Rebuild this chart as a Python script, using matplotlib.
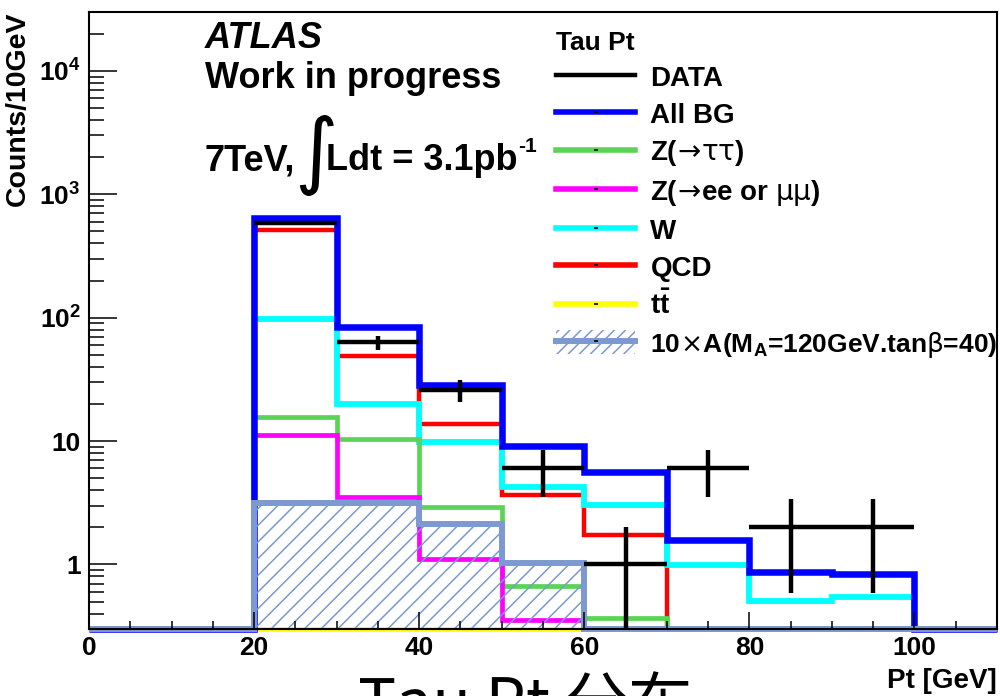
"""Tau Pt distribution: data vs. background stack components, log scale."""
import numpy as np
import matplotlib
matplotlib.use("Agg")
import matplotlib.pyplot as plt
from matplotlib.lines import Line2D
from matplotlib.patches import Patch
from matplotlib.legend_handler import HandlerTuple
from matplotlib.ticker import MultipleLocator, LogLocator, FixedLocator, FuncFormatter, NullFormatter

# ---------------------------------------------------------------------------
# data (10 GeV bins, 0-110 GeV)
# ---------------------------------------------------------------------------
bin_edges = np.arange(0, 120, 10)
data = [0, 0, 588, 63, 26, 6, 1, 6, 2, 2, 0]
all_bg = [0, 0, 637, 84, 28.3, 9.2, 5.6, 1.59, 0.87, 0.83, 0]
z_tautau = [0, 0, 15.7, 10.3, 2.95, 0.667, 0.367, 0, 0, 0, 0]
z_ll = [0, 0, 11.3, 3.5, 1.1, 0.356, 0.29, 0, 0, 0, 0]
w_jets = [0, 0, 98, 20.1, 9.8, 4.24, 3.05, 0.99, 0.51, 0.54, 0]
qcd = [0, 0, 512, 48.9, 13.7, 3.63, 1.72, 0, 0, 0, 0]
ttbar = [0, 0, 0, 0, 0, 0, 0, 0, 0, 0, 0]
signal = [0, 0, 3.14, 3.14, 2.14, 1.02, 0, 0, 0, 0, 0]

labels = ["DATA", "All BG", r"Z($\mathsf{\!\rightarrow\!\tau\tau}$)",
          r"Z($\mathsf{\!\rightarrow\!}$ee or $\mathsf{\mu\mu}$)", "W", "QCD",
          r"$\mathrm{t\bar{t}}$",
          r"10$\mathsf{\!\times\!}$A(M$_\mathrm{A}$=120GeV.tan$\mathsf{\beta}$=40)"]
x_ticks = [0, 20, 40, 60, 80, 100]

YMIN, YMAX = 0.3, 3e4
W, H = 1000, 696
SIG = "#7d99d1"

plt.rcParams["font.family"] = ["Liberation Sans", "DejaVu Sans"]
plt.rcParams["font.weight"] = "bold"
plt.rcParams["mathtext.fontset"] = "custom"
plt.rcParams["mathtext.rm"] = "Liberation Sans:bold"
plt.rcParams["mathtext.it"] = "Liberation Sans:bold:italic"
plt.rcParams["mathtext.bf"] = "Liberation Sans:bold"
plt.rcParams["mathtext.sf"] = "DejaVu Sans:normal"
plt.rcParams["hatch.linewidth"] = 1.1


def px(x, y):
    return x / W, 1 - y / H


fig = plt.figure(figsize=(10, 6.96), dpi=100)
ax = fig.add_axes([89 / W, 1 - 629 / H, (997 - 89) / W, (629 - 12) / H])
ax.set_yscale("log")
ax.set_xlim(0, 110)
ax.set_ylim(YMIN, YMAX)


def clip(v):
    return np.clip(np.asarray(v, dtype=float), YMIN, None)


hists = [
    (qcd, "#ff0000", 3.2),
    (w_jets, "#00ffff", 4.2),
    (z_tautau, "#59d454", 3.4),
    (z_ll, "#ff00ff", 3.4),
    (ttbar, "#ffff00", 3.4),
    (all_bg, "#0000ff", 4.7),
]
for vals, col, lw in hists:
    ax.stairs(clip(vals), bin_edges, baseline=None, color=col, lw=lw, clip_on=False)

ax.stairs(clip(signal), bin_edges, baseline=YMIN, fill=True, facecolor="none",
          edgecolor=SIG, hatch="//", lw=0)
ax.stairs(clip(signal), bin_edges, baseline=None, color=SIG, lw=4.3, clip_on=False)

data = np.asarray(data, dtype=float)
centers = 0.5 * (bin_edges[:-1] + bin_edges[1:])
has = data > 0
ax.errorbar(centers[has], data[has], xerr=5, yerr=np.sqrt(data[has]),
            fmt="none", ecolor="black", elinewidth=3.2, capsize=0, zorder=5)

# axes styling
for s in ax.spines.values():
    s.set_linewidth(1.5)
ax.xaxis.set_major_locator(FixedLocator(x_ticks))
ax.xaxis.set_minor_locator(MultipleLocator(5))
ax.yaxis.set_major_locator(LogLocator(base=10, numticks=10))
ax.yaxis.set_minor_locator(LogLocator(base=10, subs=np.arange(2, 10), numticks=20))
ax.yaxis.set_minor_formatter(NullFormatter())
ax.yaxis.set_major_formatter(FuncFormatter(
    lambda v, _: "1" if v == 1 else ("10" if v == 10 else r"$\mathrm{10^{%d}}$" % round(np.log10(v)))))
ax.tick_params(which="both", direction="in", top=False, right=False, width=1.1,
               labelsize=19)
ax.tick_params(axis="y", which="major", length=20, pad=6)
ax.tick_params(axis="y", which="minor", length=11)
ax.tick_params(axis="x", which="major", length=12, pad=5)
ax.tick_params(axis="x", which="minor", length=6)

fig.text(*px(18, 12), "Counts/10GeV", rotation=90, ha="center", va="top", fontsize=20.5)
fig.text(*px(997, 668), "Pt [GeV]", ha="right", va="top", fontsize=20)

# ATLAS label block
fig.text(*px(205, 48), "ATLAS", style="italic", fontsize=26, va="baseline")
fig.text(*px(205, 88), "Work in progress", fontsize=26, va="baseline")
fig.text(*px(205, 170), "7TeV,", fontsize=26, va="baseline")
fig.text(*px(294, 156), "∫", family="DejaVu Sans", fontweight="normal",
         fontsize=60, va="center")
fig.text(*px(326, 170), "Ldt = 3.1pb", fontsize=26, va="baseline")
fig.text(*px(518, 152), "-1", fontsize=15, va="baseline")

# legend
colors = ["black", "#0000ff", "#59d454", "#ff00ff", "#00ffff", "#ff0000", "#ffff00"]
handles = [Line2D([], [], color="black", lw=3.2)]
for c in colors[1:]:
    handles.append(Line2D([], [], color=c, lw=4, marker="_", markersize=3,
                          markeredgecolor="black", markeredgewidth=1.2))
handles.append((Patch(facecolor="none", edgecolor=SIG, hatch="///", lw=0),
                Line2D([], [], color=SIG, lw=4.3, marker="_", markersize=3,
                       markeredgecolor="black", markeredgewidth=1.2)))
leg = fig.legend(handles, labels, loc="upper left", bbox_to_anchor=px(556, 31),
                 frameon=False, fontsize=20, title="Tau Pt",
                 title_fontproperties={"size": 19, "weight": "bold"},
                 handlelength=2.85, handleheight=0.95, handletextpad=0.55,
                 labelspacing=0.34, borderpad=0, borderaxespad=0, alignment="left",
                 handler_map={tuple: HandlerTuple(ndivide=1, pad=0)})
leg.get_texts()[-1].set_fontsize(19)

# caption cut off by the bottom edge
fig.text(*px(358, 725), "Tau Pt 分布", family=["Noto Sans CJK SC", "DejaVu Sans"],
         fontweight="normal", fontsize=46, va="baseline", ha="left")

fig.savefig("out.png", dpi=100)
